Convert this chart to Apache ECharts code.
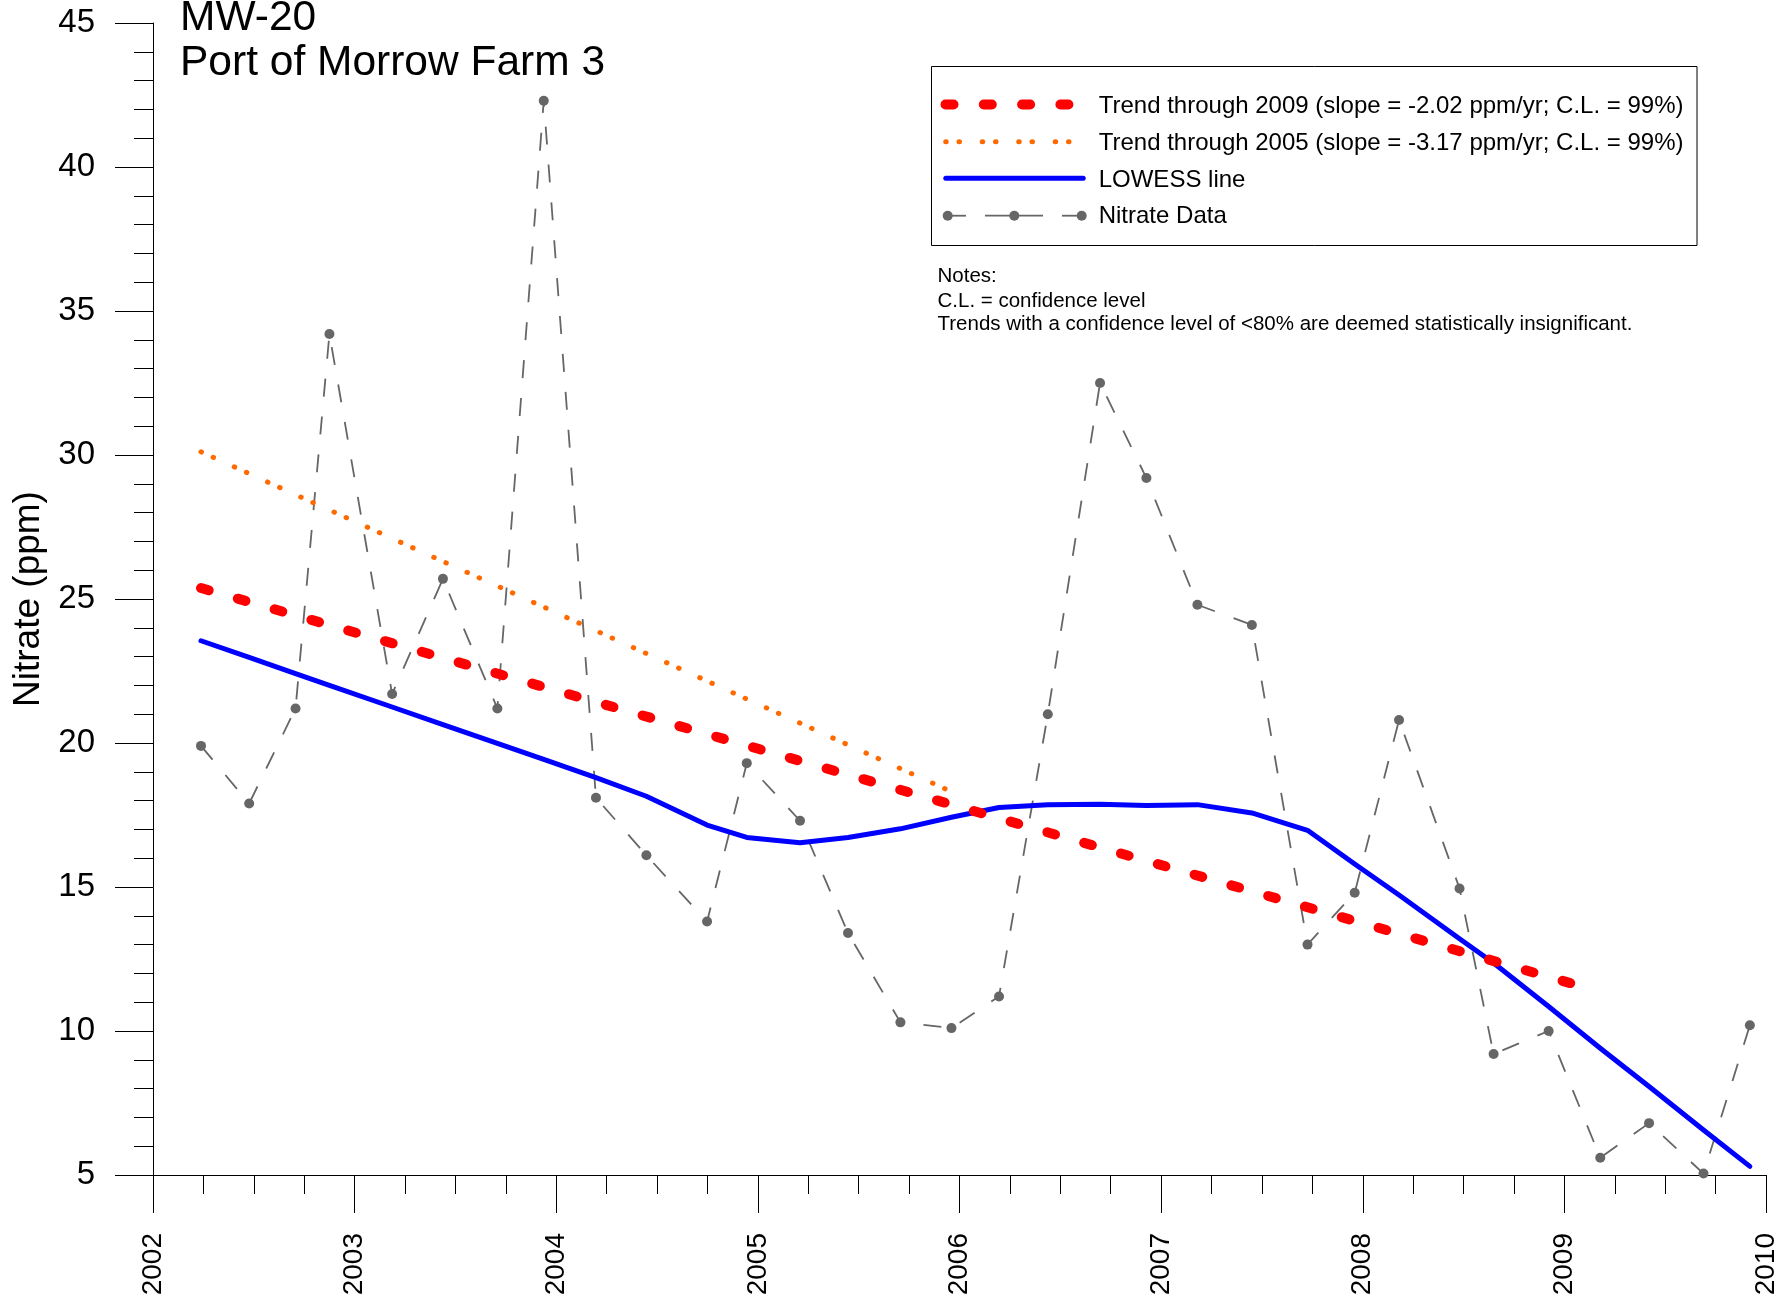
<!DOCTYPE html>
<html>
<head>
<meta charset="utf-8">
<script src="https://cdn.jsdelivr.net/npm/echarts@6/dist/echarts.min.js"></script>
<style>
html,body{margin:0;padding:0;background:#fff;}
#chart{width:1780px;height:1299px;}
</style>
</head>
<body>
<div id="chart"></div>
<script>
// ---- data ----
const sampleYears = [2002.238, 2002.477, 2002.707, 2002.875, 2003.186, 2003.438, 2003.708, 2003.938,
  2004.197, 2004.447, 2004.748, 2004.945, 2005.209, 2005.447, 2005.707, 2005.96,
  2006.196, 2006.438, 2006.697, 2006.927, 2007.18, 2007.45, 2007.726, 2007.96,
  2008.18, 2008.48, 2008.649, 2008.922, 2009.178, 2009.42, 2009.69, 2009.92];
const nitrate = [19.9, 17.9, 21.2, 34.2, 21.7, 25.7, 21.2, 42.3,
  18.1, 16.1, 13.8, 19.3, 17.3, 13.4, 10.3, 10.1,
  11.2, 21.0, 32.5, 29.2, 24.8, 24.1, 13.0, 14.8,
  20.8, 14.95, 9.2, 10.0, 5.6, 6.8, 5.05, 10.2];
const lowess = [23.55, 22.97, 22.41, 22.0, 21.25, 20.64, 19.99, 19.43,
  18.8, 18.15, 17.15, 16.72, 16.54, 16.72, 17.02, 17.42,
  17.76, 17.86, 17.87, 17.83, 17.86, 17.57, 16.97, 15.8,
  14.72, 13.2, 12.36, 10.85, 9.4, 8.07, 6.56, 5.3];
const trend2009Years = [2002.238, 2009.12];
const trend2009Values = [25.38, 11.48];
const trend2005Years = [2002.238, 2005.96];
const trend2005Values = [30.11, 18.31];
const yearTicks = [2002, 2003, 2004, 2005, 2006, 2007, 2008, 2009, 2010];
const nitrateTicks = [5, 10, 15, 20, 25, 30, 35, 40, 45];
const titleLines = ['MW-20', 'Port of Morrow Farm 3'];
const legendLabels = [
  'Trend through 2009 (slope = -2.02 ppm/yr; C.L. = 99%)',
  'Trend through 2005 (slope = -3.17 ppm/yr; C.L. = 99%)',
  'LOWESS line',
  'Nitrate Data'
];
const notesLines = [
  'Notes:',
  'C.L. = confidence level',
  'Trends with a confidence level of <80% are deemed statistically insignificant.'
];

// ---- styling ----
const FONT = '"Liberation Sans", Arial, Helvetica, sans-serif';
const GRAY = '#666666';
const RED = '#ff0000';
const ORANGE = '#ff6a00';
const BLUE = '#0000ff';

const pairs = (xs, ys) => xs.map((x, i) => [x, ys[i]]);

const chart = echarts.init(document.getElementById('chart'), null, {renderer: 'canvas'});

// legend drawn as graphics (symbol samples + labels)
const legRowY = [104.5, 141.7, 178.3, 215.7];
const legendGraphics = [
  {type: 'rect', shape: {x: 931.5, y: 66.5, width: 765.5, height: 179}, style: {fill: '#fff', stroke: '#000', lineWidth: 1}, z: 10},
  {type: 'line', shape: {x1: 945.5, y1: legRowY[0], x2: 1068.4, y2: legRowY[0]}, style: {stroke: RED, lineWidth: 10, lineDash: [8, 30.3], lineCap: 'round'}, z: 11},
  {type: 'line', shape: {x1: 945.7, y1: legRowY[1], x2: 1069, y2: legRowY[1]}, style: {stroke: ORANGE, lineWidth: 5, lineDash: [0.5, 12.8, 0.5, 22.7], lineCap: 'round'}, z: 11},
  {type: 'line', shape: {x1: 945.8, y1: legRowY[2], x2: 1083.2, y2: legRowY[2]}, style: {stroke: BLUE, lineWidth: 5, lineCap: 'round'}, z: 11},
  {type: 'line', shape: {x1: 947.7, y1: legRowY[3], x2: 966, y2: legRowY[3]}, style: {stroke: GRAY, lineWidth: 1.8}, z: 11},
  {type: 'line', shape: {x1: 985, y1: legRowY[3], x2: 1043, y2: legRowY[3]}, style: {stroke: GRAY, lineWidth: 1.8}, z: 11},
  {type: 'line', shape: {x1: 1062, y1: legRowY[3], x2: 1081.7, y2: legRowY[3]}, style: {stroke: GRAY, lineWidth: 1.8}, z: 11},
  {type: 'circle', shape: {cx: 947.7, cy: legRowY[3], r: 5}, style: {fill: GRAY}, z: 12},
  {type: 'circle', shape: {cx: 1014.3, cy: legRowY[3], r: 5}, style: {fill: GRAY}, z: 12},
  {type: 'circle', shape: {cx: 1081.7, cy: legRowY[3], r: 5}, style: {fill: GRAY}, z: 12}
];
const legTextY = [106.5, 143.4, 180, 216.7];
legendLabels.forEach((t, i) => {
  legendGraphics.push({type: 'text', x: 1098.7, y: legTextY[i], style: {text: t, fill: '#000', font: '24px ' + FONT, textVerticalAlign: 'middle', textAlign: 'left'}, z: 12});
});
const notesY = [276.4, 301.4, 324.7];
notesLines.forEach((t, i) => {
  legendGraphics.push({type: 'text', x: 937.5, y: notesY[i], style: {text: t, fill: '#000', font: '20.5px ' + FONT, textVerticalAlign: 'middle', textAlign: 'left'}, z: 12});
});
const titleY = [17.8, 62.8];
titleLines.forEach((t, i) => {
  legendGraphics.push({type: 'text', x: 180, y: titleY[i], style: {text: t, fill: '#000', font: '42.5px ' + FONT, textVerticalAlign: 'middle', textAlign: 'left'}, z: 12});
});

const option = {
  animation: false,
  backgroundColor: '#ffffff',
  textStyle: {fontFamily: FONT},
  grid: {left: 153, right: 14, top: 23, bottom: 124, containLabel: false},
  xAxis: {
    type: 'value', min: yearTicks[0], max: yearTicks[yearTicks.length - 1], interval: 1,
    axisLine: {show: true, onZero: false, lineStyle: {color: '#000', width: 1}},
    axisTick: {show: true, length: 38, lineStyle: {color: '#000', width: 1}},
    minorTick: {show: true, splitNumber: 4, length: 19, lineStyle: {color: '#000', width: 1}},
    splitLine: {show: false},
    minorSplitLine: {show: false},
    axisLabel: {
      rotate: 90, margin: 58, fontSize: 28, color: '#000', fontFamily: FONT,
      showMinLabel: true, showMaxLabel: true, hideOverlap: false,
      padding: [9, 0, 0, 0],
      formatter: v => String(Math.round(v))
    }
  },
  yAxis: {
    type: 'value', min: nitrateTicks[0], max: nitrateTicks[nitrateTicks.length - 1], interval: 5,
    name: 'Nitrate (ppm)', nameLocation: 'middle', nameGap: 101.5,
    nameTextStyle: {fontSize: 37, color: '#000', fontFamily: FONT, lineHeight: 37},
    axisLine: {show: true, onZero: false, lineStyle: {color: '#000', width: 1}},
    axisTick: {show: true, length: 38, lineStyle: {color: '#000', width: 1}},
    minorTick: {show: true, splitNumber: 5, length: 19, lineStyle: {color: '#000', width: 1}},
    splitLine: {show: false},
    minorSplitLine: {show: false},
    axisLabel: {margin: 58, fontSize: 33, color: '#000', fontFamily: FONT, showMinLabel: true, showMaxLabel: true, padding: [4, 0, 0, 0]}
  },
  series: [
    {
      name: 'Nitrate Data', type: 'line', data: pairs(sampleYears, nitrate),
      symbol: 'circle', symbolSize: 10, showSymbol: true,
      itemStyle: {color: GRAY, borderWidth: 0},
      lineStyle: {color: GRAY, width: 1.8, type: [18, 20]},
      z: 2, silent: true, clip: false
    },
    {
      name: 'LOWESS line', type: 'line', data: pairs(sampleYears, lowess),
      symbol: 'none', showSymbol: false, smooth: false,
      lineStyle: {color: BLUE, width: 5, join: 'round', cap: 'round'},
      z: 3, silent: true, clip: false
    },
    {
      name: 'Trend through 2005', type: 'line', data: pairs(trend2005Years, trend2005Values),
      symbol: 'none', showSymbol: false,
      lineStyle: {color: ORANGE, width: 5, type: [0.5, 12.8, 0.5, 22.7], cap: 'round'},
      z: 4, silent: true, clip: false
    },
    {
      name: 'Trend through 2009', type: 'line', data: pairs(trend2009Years, trend2009Values),
      symbol: 'none', showSymbol: false,
      lineStyle: {color: RED, width: 10, type: [8, 30.3], cap: 'round'},
      z: 5, silent: true, clip: false
    }
  ],
  graphic: legendGraphics
};
chart.setOption(option);
</script>
</body>
</html>
